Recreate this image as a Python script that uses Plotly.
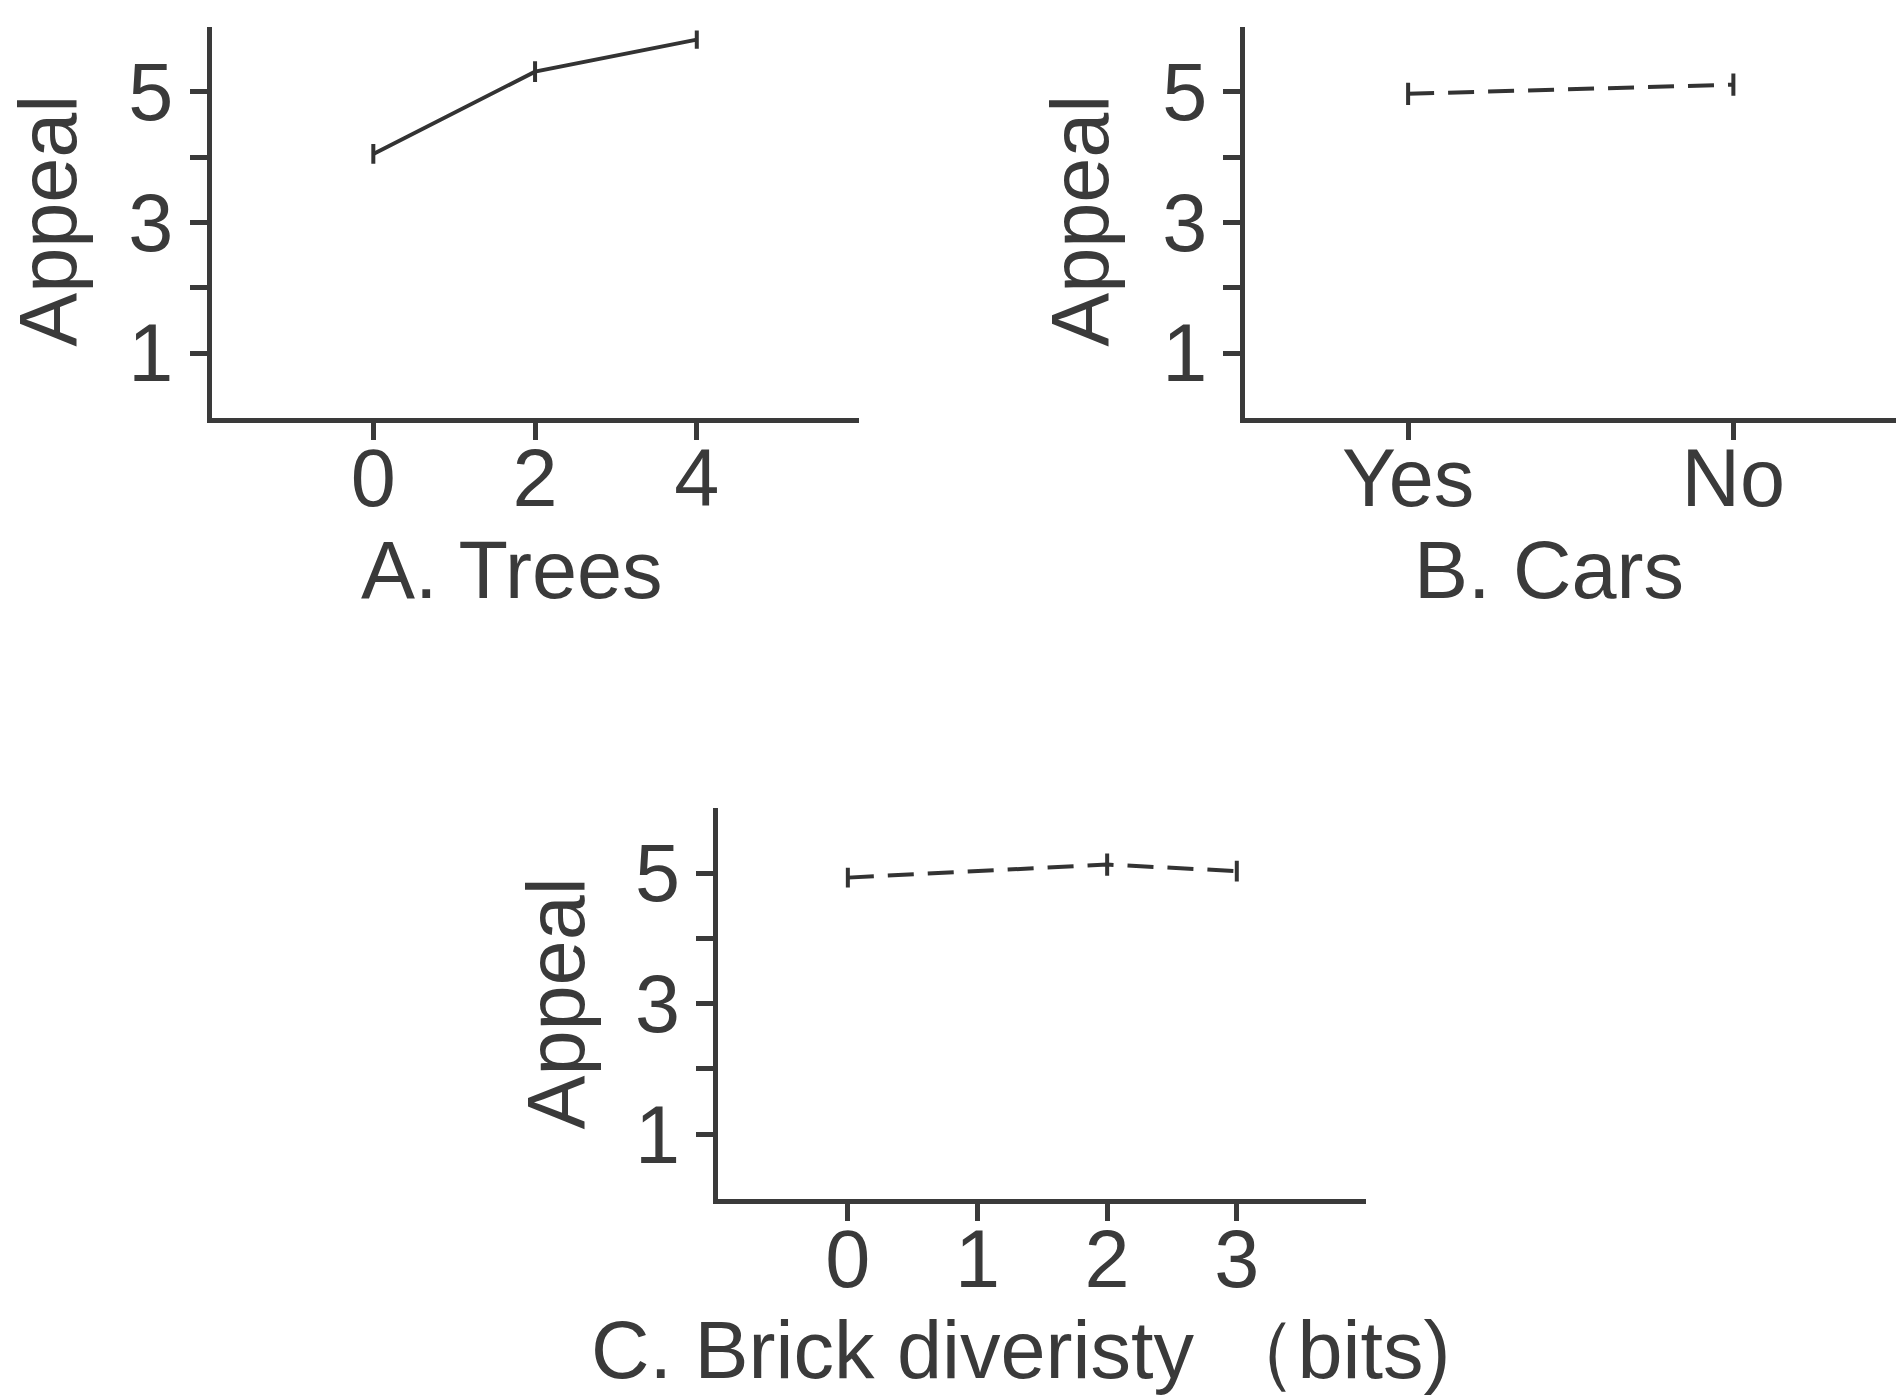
import plotly.graph_objects as go

# Panel A: number of trees
TREES_X = [0, 2, 4]
TREES_APPEAL = [4.05, 5.31, 5.80]
TREES_ERR = [0.15, 0.16, 0.14]

# Panel B: cars present
CARS_X = ["Yes", "No"]
CARS_APPEAL = [4.97, 5.11]
CARS_ERR = [0.17, 0.17]

# Panel C: brick diversity (bits)
BRICK_X = [0, 2, 3]
BRICK_APPEAL = [4.93, 5.13, 5.03]
BRICK_ERR = [0.15, 0.17, 0.16]

Y_TICKS = [1, 2, 3, 4, 5]
Y_TICK_TEXT = ["1", "", "3", "", "5"]

W, H = 1896, 1398
FONT = "Liberation Sans, Arial, sans-serif"
INK = "#3a3a3a"
FONT_SIZE = 81
DASH = "26px,14px"


def axis_style(**extra) -> dict:
    style = dict(
        showline=True,
        linewidth=5,
        linecolor=INK,
        ticks="outside",
        ticklen=17,
        tickwidth=5,
        tickcolor=INK,
        showgrid=False,
        zeroline=False,
        tickfont=dict(family=FONT, size=FONT_SIZE, color=INK),
    )
    style.update(extra)
    return style


def line_trace(x, y, err, xaxis, yaxis, dash) -> go.Scatter:
    return go.Scatter(
        x=x,
        y=y,
        mode="lines",
        line=dict(color="#333333", width=4, dash=dash),
        error_y=dict(type="data", array=err, visible=True, width=0,
                     thickness=4, color="#333333"),
        xaxis=xaxis,
        yaxis=yaxis,
        showlegend=False,
        hoverinfo="x+y",
    )


def label(text, x, y, angle=0) -> dict:
    return dict(
        text=text,
        x=x,
        y=y,
        xref="paper",
        yref="paper",
        xanchor="center",
        yanchor="middle",
        showarrow=False,
        textangle=angle,
        font=dict(family=FONT, size=FONT_SIZE, color=INK),
    )


fig = go.Figure()
fig.add_trace(line_trace(TREES_X, TREES_APPEAL, TREES_ERR, "x", "y", "solid"))
fig.add_trace(line_trace(CARS_X, CARS_APPEAL, CARS_ERR, "x2", "y2", DASH))
fig.add_trace(line_trace(BRICK_X, BRICK_APPEAL, BRICK_ERR, "x3", "y3", DASH))

y_common = dict(range=[0, 6], tickmode="array", tickvals=Y_TICKS, ticktext=Y_TICK_TEXT)
x_common = dict(ticklabelstandoff=-32)

fig.update_layout(
    width=W,
    height=H,
    margin=dict(l=0, r=0, t=0, b=0),
    paper_bgcolor="white",
    plot_bgcolor="white",
    xaxis=axis_style(domain=[0.1116, 0.4528], range=[-2, 6], tickmode="array",
                     tickvals=[0, 2, 4], anchor="y", **x_common),
    yaxis=axis_style(domain=[0.7007, 0.981], anchor="x", **y_common),
    xaxis2=axis_style(domain=[0.6569, 1.0], range=[-0.5, 1.5], type="category",
                      categoryorder="array", categoryarray=CARS_X, anchor="y2",
                      **x_common),
    yaxis2=axis_style(domain=[0.7007, 0.981], anchor="x2", **y_common),
    xaxis3=axis_style(domain=[0.3788, 0.7207], range=[-1, 4], tickmode="array",
                      tickvals=[0, 1, 2, 3], anchor="y3", **x_common),
    yaxis3=axis_style(domain=[0.142, 0.4222], anchor="x3", **y_common),
    annotations=[
        label("A. Trees", 0.2698, 0.5923),
        label("B. Cars", 0.817, 0.5923),
        label("C. Brick diveristy （bits)", 0.5385, 0.0343),
        label("Appeal", 0.0253, 0.842, -90),
        label("Appeal", 0.5696, 0.842, -90),
        label("Appeal", 0.2932, 0.2821, -90),
    ],
)

fig.write_html(
    "out.html",
    config={"displayModeBar": False},
    post_script="document.body.style.margin = '0px';",
)
